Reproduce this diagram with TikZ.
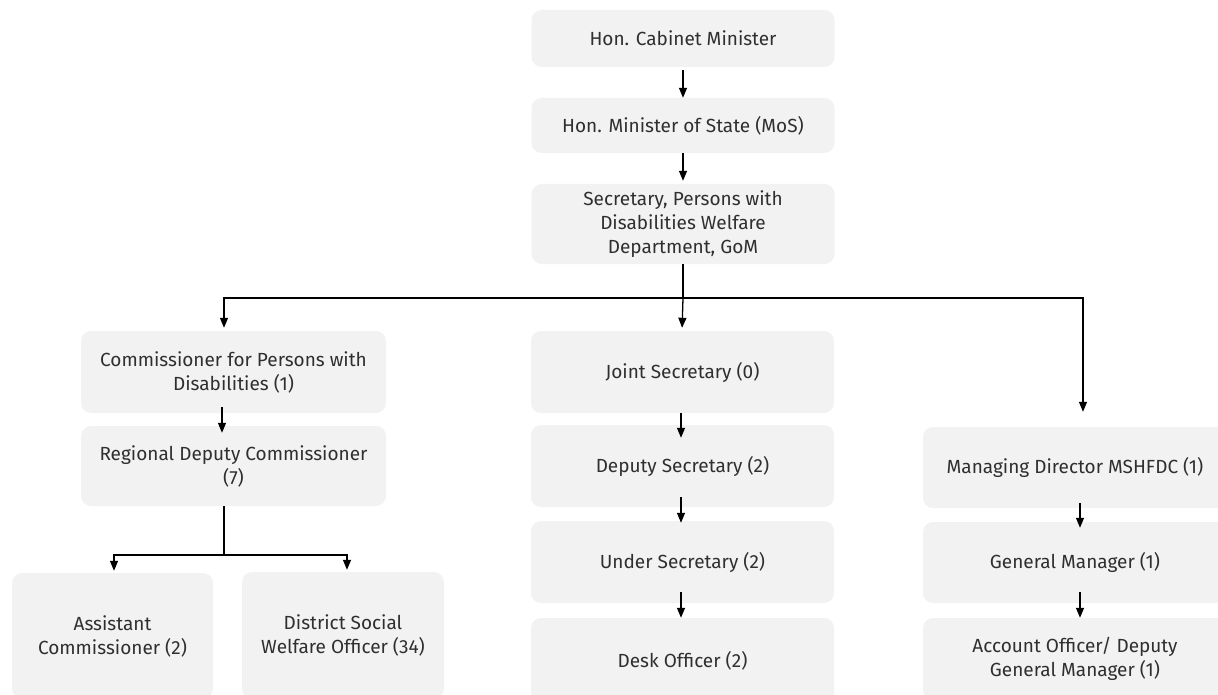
\documentclass[tikz,border=0pt]{standalone}
\usepackage{fontspec}
\setmainfont{Fira Sans}
\usetikzlibrary{arrows.meta}
\definecolor{boxfill}{HTML}{F2F2F2}
\definecolor{txt}{HTML}{2F2F2F}
\tikzset{
  box/.style={fill=boxfill, rounded corners=10pt, align=center, text=txt,
    font=\fontsize{19}{24}\selectfont, inner sep=0pt},
  arr/.style={-{Triangle[length=10pt,width=8pt]}, line width=1.3pt, black},
  ln/.style={line width=1.3pt, black}
}
\begin{document}
\begin{tikzpicture}[x=1pt,y=-1pt]
\useasboundingbox (0,0) rectangle (1218,695);
\clip (0,0) rectangle (1218,695);
% top column
\node[box, minimum width=303pt, minimum height=57pt] (cab) at (683,38.5) {Hon. Cabinet Minister};
\node[box, minimum width=303pt, minimum height=55pt] (mos) at (683,125.5) {Hon. Minister of State (MoS)};
\node[box, minimum width=303pt, minimum height=80pt] (sec) at (683,224) {Secretary, Persons with\\Disabilities Welfare\\Department, GoM};
% left column
\node[box, minimum width=305pt, minimum height=82pt] (com) at (233.5,372) {Commissioner for Persons with\\Disabilities (1)};
\node[box, minimum width=305pt, minimum height=80pt] (reg) at (233.5,466) {Regional Deputy Commissioner\\(7)};
\node[box, minimum width=201pt, minimum height=126pt] (asst) at (112.5,636) {Assistant\\Commissioner (2)};
\node[box, minimum width=202pt, minimum height=127pt] (dist) at (343,635.5) {District Social\\Welfare Officer (34)};
% middle column
\node[box, minimum width=303pt, minimum height=82pt] (joint) at (682.5,372) {Joint Secretary (0)};
\node[box, minimum width=303pt, minimum height=82pt] (dep) at (682.5,466) {Deputy Secretary (2)};
\node[box, minimum width=303pt, minimum height=82pt] (under) at (682.5,562) {Under Secretary (2)};
\node[box, minimum width=303pt, minimum height=86pt] (desk) at (682.5,661) {Desk Officer (2)};
% right column
\node[box, minimum width=304pt, minimum height=81pt] (md) at (1075,467.5) {Managing Director MSHFDC (1)};
\node[box, minimum width=304pt, minimum height=81pt] (gm) at (1075,562.5) {General Manager (1)};
\node[box, minimum width=304pt, minimum height=82pt] (acc) at (1075,659) {Account Officer/ Deputy\\General Manager (1)};
% connectors top
\draw[arr] ([yshift=-3pt]cab.south) -- (mos.north);
\draw[arr] (mos.south) -- ([yshift=3pt]sec.north);
\coordinate (bus) at (683,298);
\draw[ln] (sec.south) -- (bus);
\draw[arr, shorten >=3pt] (bus) -| ([xshift=-9.5pt]com.north);
\draw[arr, shorten >=3pt] (bus) -- ([xshift=-0.5pt]joint.north);
\draw[arr, shorten >=15pt] (bus) -| ([xshift=8pt]md.north);
% left
\draw[arr] ([xshift=-11.5pt,yshift=6pt]com.south) -- ([xshift=-11.5pt,yshift=-7pt]reg.north);
\coordinate (lbus) at (224,555);
\draw[ln] ([xshift=-9.5pt]reg.south) -- (lbus);
\draw[arr, shorten >=2pt] (lbus) -| ([xshift=1.5pt]asst.north);
\draw[arr, shorten >=2pt] (lbus) -| ([xshift=4pt]dist.north);
% middle
\draw[arr] ([xshift=-1.5pt]joint.south) -- ([xshift=-1.5pt,yshift=-13pt]dep.north);
\draw[arr] ([xshift=-1.5pt,yshift=10pt]dep.south) -- ([xshift=-1.5pt,yshift=-2pt]under.north);
\draw[arr] ([xshift=-1.5pt,yshift=11pt]under.south) -- ([xshift=-1.5pt]desk.north);
% right
\draw[arr] ([xshift=5pt,yshift=5pt]md.south) -- ([xshift=5pt,yshift=-6pt]gm.north);
\draw[arr] ([xshift=5pt,yshift=11pt]gm.south) -- ([xshift=5pt]acc.north);
\end{tikzpicture}
\end{document}
